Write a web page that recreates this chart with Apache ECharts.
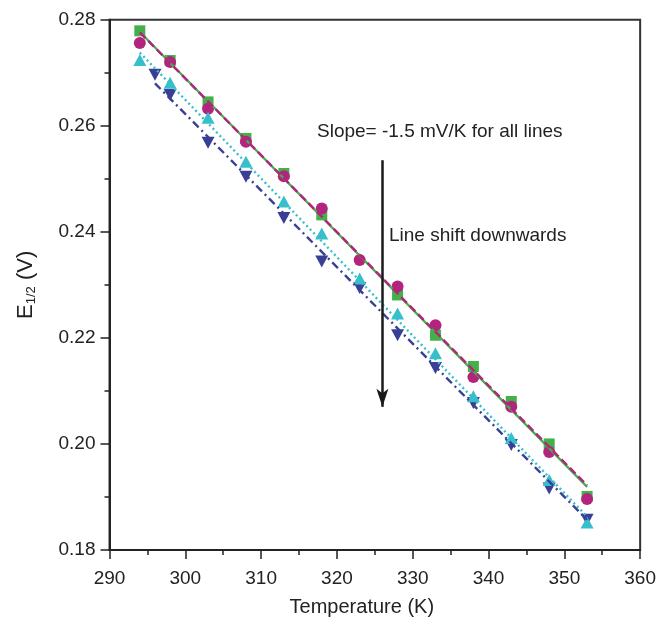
<!DOCTYPE html>
<html>
<head>
<meta charset="utf-8">
<script src="https://cdn.jsdelivr.net/npm/echarts@6/dist/echarts.min.js"></script>
<style>html,body{margin:0;padding:0;background:#fff;}#c{width:659px;height:622px;}</style>
</head>
<body>
<div id="c"></div>
<script>
// ---- data ----
const temps = [294, 298, 303, 308, 313, 318, 323, 328, 333, 338, 343, 348, 353];
const tempsBlue = [296, 298, 303, 308, 313, 318, 323, 328, 333, 338, 343, 348, 353];
const greenSquares = [0.2779, 0.2723, 0.2645, 0.2576, 0.2510, 0.2432, null, 0.2281, 0.2205, 0.2146, 0.2080, 0.2000, 0.1901];
const pinkCircles  = [0.2756, 0.2720, 0.2632, 0.2570, 0.2505, 0.2444, 0.2347, 0.2297, 0.2224, 0.2126, 0.2070, 0.1985, 0.1896];
const cyanUp       = [0.2724, 0.2681, 0.2615, 0.2532, 0.2457, 0.2397, 0.2312, 0.2246, 0.2171, 0.2090, 0.2011, 0.1932, 0.1852];
const blueDown     = [0.2696, 0.2658, 0.2568, 0.2504, 0.2426, 0.2344, 0.2294, 0.2205, 0.2143, 0.2077, 0.1998, 0.1916, 0.1857];
// linear fit end points [T, E]
const greenFit = [[294, 0.2777], [353, 0.1919]];
const pinkFit  = [[294, 0.2776], [353, 0.1922]];
const cyanFit  = [[294, 0.2738], [353, 0.1863]];
const blueFit  = [[296, 0.2680], [353, 0.1857]];
// annotation arrow (data coords)
const arrowT = 326;
const arrowFrom = 0.2535;
const arrowTo = 0.2070;
const slopeText = 'Slope= -1.5 mV/K for all lines';
const shiftText = 'Line shift downwards';
const xTicks = [290, 360, 10];
const yTicks = [0.18, 0.28, 0.02];

const FONT = "'Liberation Sans', Arial, Helvetica, sans-serif";
const C_GREEN = '#43b04a', C_PINK = '#b3247e', C_CYAN = '#38bfcc', C_BLUE = '#3a3f96';

function pts(xs, ys) { return xs.map((x, i) => [x, ys[i]]).filter(p => p[1] != null); }

const chart = echarts.init(document.getElementById('c'), null, { renderer: 'canvas' });
const axisCommon = {
  axisLine: { show: true, onZero: false, lineStyle: { color: '#222', width: 2 } },
  axisTick: { show: true, inside: false, length: 9, lineStyle: { color: '#222', width: 1.5 } },
  minorTick: { show: true, splitNumber: 2, length: 5, lineStyle: { color: '#222', width: 1.5 } },
  splitLine: { show: false },
  minorSplitLine: { show: false },
  axisLabel: { color: '#222', fontSize: 19, fontFamily: FONT },
  nameTextStyle: { color: '#222', fontSize: 20, fontFamily: FONT }
};
chart.setOption({
  animation: false,
  backgroundColor: '#fff',
  grid: { left: 109.5, right: 18.5, top: 19.7, bottom: 72, show: true, borderColor: '#333', borderWidth: 2, backgroundColor: 'transparent' },
  xAxis: Object.assign({}, axisCommon, {
    type: 'value', min: xTicks[0], max: xTicks[1], interval: xTicks[2],
    name: 'Temperature (K)', nameLocation: 'middle', nameGap: 47,
    nameTextStyle: { color: '#222', fontSize: 20, fontFamily: FONT, padding: [0, 26, 0, 0] },
    axisLabel: Object.assign({}, axisCommon.axisLabel, { margin: 19 })
  }),
  yAxis: Object.assign({}, axisCommon, {
    type: 'value', min: yTicks[0], max: yTicks[1], interval: yTicks[2],
    name: '{n|E}{s|1/2}{n| (V)}', nameLocation: 'middle', nameGap: 70,
    nameTextStyle: {
      color: '#222', fontFamily: FONT,
      rich: {
        n: { fontSize: 22, fontFamily: FONT, color: '#222', lineHeight: 28, verticalAlign: 'middle' },
        s: { fontSize: 13, fontFamily: FONT, color: '#222', lineHeight: 28, verticalAlign: 'bottom', padding: [0, 0, 2, 0] }
      }
    },
    axisLabel: Object.assign({}, axisCommon.axisLabel, { margin: 14, formatter: v => v.toFixed(2) })
  }),
  series: [
    { type: 'scatter', data: pts(tempsBlue, blueDown), symbol: 'triangle', symbolRotate: 180, symbolSize: [13, 12], itemStyle: { color: C_BLUE, opacity: 1 }, z: 2 },
    { type: 'scatter', data: pts(temps, greenSquares), symbol: 'rect', symbolSize: 11, itemStyle: { color: C_GREEN, opacity: 1 }, z: 2 },
    { type: 'scatter', data: pts(temps, pinkCircles), symbol: 'circle', symbolSize: 12, itemStyle: { color: C_PINK, opacity: 1 }, z: 2 },
    { type: 'scatter', data: pts(temps, cyanUp), symbol: 'triangle', symbolSize: [13, 12], itemStyle: { color: C_CYAN, opacity: 1 }, z: 2 },
    { type: 'line', data: greenFit, showSymbol: false, symbol: 'none', lineStyle: { color: C_GREEN, width: 2.2 }, z: 3 },
    { type: 'line', data: pinkFit, showSymbol: false, symbol: 'none', lineStyle: { color: C_PINK, width: 2.4, type: [8, 4] }, z: 3 },
    { type: 'line', data: cyanFit, showSymbol: false, symbol: 'none', lineStyle: { color: C_CYAN, width: 2.4, type: [2, 3] }, z: 3 },
    { type: 'line', data: blueFit, showSymbol: false, symbol: 'none', lineStyle: { color: C_BLUE, width: 2.4, type: [8, 4, 2, 4] }, z: 3 },
    { type: 'line', data: [], symbol: 'none', z: 4,
      markLine: {
        silent: true, animation: false,
        lineStyle: { color: '#1a1a1a', width: 2.5, type: 'solid' },
        label: { show: false },
        data: [[{ coord: [arrowT, arrowFrom], symbol: 'none' }, { coord: [arrowT, arrowTo], symbol: 'arrow', symbolSize: [9, 18] }]]
      }
    }
  ],
  graphic: [
    { type: 'text', x: 317, y: 132, style: { text: slopeText, font: '19px ' + FONT, fill: '#222', textVerticalAlign: 'middle' } },
    { type: 'text', x: 389, y: 236, style: { text: shiftText, font: '19px ' + FONT, fill: '#222', textVerticalAlign: 'middle' } }
  ]
});
</script>
</body>
</html>
